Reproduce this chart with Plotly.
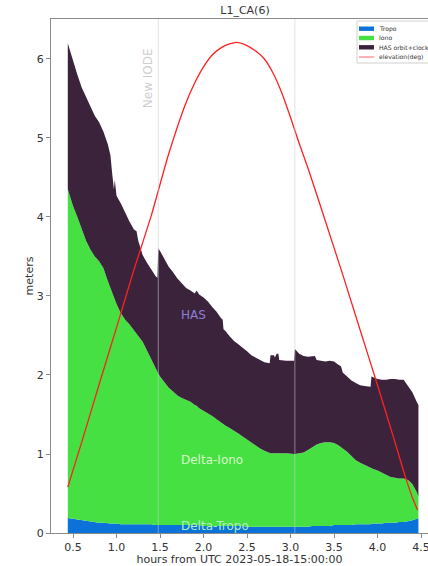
import plotly.graph_objects as go

# ---- data ----
hours = [0.44, 0.50, 0.55, 0.60, 0.65, 0.70, 0.75, 0.80, 0.85, 0.90, 0.93, 0.95, 0.97, 0.98, 0.99,
         1.00, 1.05, 1.10, 1.15, 1.20, 1.23, 1.25, 1.30, 1.35, 1.40, 1.45, 1.47, 1.48, 1.50, 1.55,
         1.60, 1.65, 1.70, 1.75, 1.80, 1.85, 1.90, 1.92, 1.95, 2.00, 2.05, 2.10, 2.15, 2.20, 2.22,
         2.23, 2.25, 2.30, 2.35, 2.40, 2.45, 2.50, 2.55, 2.60, 2.65, 2.70, 2.76, 2.77, 2.81, 2.82,
         2.84, 2.86, 2.87, 2.95, 3.04, 3.05, 3.10, 3.15, 3.20, 3.25, 3.28, 3.30, 3.35, 3.40, 3.45,
         3.50, 3.55, 3.58, 3.60, 3.65, 3.70, 3.75, 3.80, 3.85, 3.92, 3.93, 3.95, 4.00, 4.05, 4.10,
         4.15, 4.20, 4.25, 4.30, 4.35, 4.40, 4.45, 4.47]

tropo = [0.19, 0.18, 0.17, 0.16, 0.15, 0.15, 0.14, 0.13, 0.13, 0.12, 0.12, 0.12, 0.12, 0.12, 0.12,
         0.12, 0.11, 0.11, 0.11, 0.11, 0.11, 0.11, 0.11, 0.11, 0.11, 0.10, 0.10, 0.10, 0.10, 0.10,
         0.10, 0.10, 0.10, 0.10, 0.10, 0.10, 0.10, 0.10, 0.10, 0.09, 0.09, 0.09, 0.09, 0.09, 0.09,
         0.09, 0.09, 0.09, 0.09, 0.09, 0.09, 0.08, 0.08, 0.08, 0.08, 0.08, 0.08, 0.08, 0.08, 0.08,
         0.08, 0.08, 0.08, 0.08, 0.08, 0.08, 0.08, 0.08, 0.08, 0.09, 0.09, 0.09, 0.09, 0.09, 0.09,
         0.10, 0.10, 0.10, 0.10, 0.10, 0.10, 0.11, 0.11, 0.11, 0.11, 0.12, 0.12, 0.12, 0.12, 0.13,
         0.13, 0.13, 0.14, 0.14, 0.15, 0.16, 0.18, 0.19]

iono = [4.16, 3.96, 3.83, 3.68, 3.55, 3.44, 3.36, 3.31, 3.22, 3.07, 2.98, 2.92, 2.86, 2.83, 2.80,
        2.78, 2.67, 2.59, 2.53, 2.46, 2.42, 2.39, 2.31, 2.20, 2.08, 1.98, 1.94, 1.92, 1.88, 1.81,
        1.74, 1.69, 1.64, 1.61, 1.59, 1.56, 1.52, 1.51, 1.48, 1.46, 1.43, 1.39, 1.35, 1.31, 1.29,
        1.29, 1.27, 1.24, 1.21, 1.17, 1.13, 1.10, 1.06, 1.02, 0.99, 0.96, 0.93, 0.93, 0.93, 0.93,
        0.93, 0.93, 0.93, 0.93, 0.92, 0.92, 0.93, 0.94, 0.97, 1.00, 1.02, 1.03, 1.05, 1.06, 1.06,
        1.04, 1.01, 0.99, 0.97, 0.93, 0.87, 0.81, 0.78, 0.75, 0.71, 0.70, 0.69, 0.67, 0.64, 0.60,
        0.58, 0.57, 0.55, 0.55, 0.52, 0.46, 0.34, 0.27]

has = [1.85, 1.83, 1.80, 1.80, 1.82, 1.81, 1.78, 1.76, 1.73, 1.73, 1.68, 1.51, 1.37, 1.52, 1.38,
       1.37, 1.39, 1.35, 1.30, 1.27, 1.29, 1.20, 1.10, 1.11, 1.14, 1.17, 1.19, 1.58, 1.59, 1.55,
       1.53, 1.51, 1.48, 1.45, 1.41, 1.41, 1.41, 1.46, 1.44, 1.43, 1.41, 1.38, 1.36, 1.32, 1.32,
       1.20, 1.20, 1.16, 1.13, 1.13, 1.13, 1.12, 1.11, 1.12, 1.12, 1.12, 1.14, 1.24, 1.24, 1.21,
       1.26, 1.26, 1.18, 1.17, 1.18, 1.33, 1.26, 1.22, 1.18, 1.15, 1.13, 1.07, 1.04, 1.02, 1.03,
       1.03, 1.02, 1.02, 0.96, 0.95, 0.96, 0.98, 0.98, 1.00, 1.03, 1.16, 1.16, 1.16, 1.18, 1.21,
       1.24, 1.25, 1.25, 1.25, 1.19, 1.16, 1.14, 1.16]

elev_hours = [0.44, 0.6, 0.8, 1.0, 1.2, 1.4, 1.6, 1.8, 1.9, 2.0, 2.1, 2.2, 2.3, 2.38, 2.5, 2.6,
              2.7, 2.8, 2.9, 3.0, 3.1, 3.2, 3.4, 3.6, 3.8, 4.0, 4.2, 4.32, 4.4, 4.46]
elev_deg = [5.8, 11.5, 18.8, 26.0, 33.3, 40.2, 48.0, 54.5, 57.0, 59.0, 60.5, 61.4, 61.9, 62.1,
            61.7, 61.0, 60.0, 58.2, 55.7, 52.6, 49.3, 46.2, 39.5, 32.7, 25.7, 18.7, 11.5, 7.1, 4.5, 2.9]

iode_hours = [1.48, 3.05]

series_names = ["Tropo", "Iono", "HAS orbit+clock", "elevation(deg)"]
series_colors = ["#0a72d8", "#46e042", "#3c233c", "#ff2020"]

x_ticks = [0.5, 1.0, 1.5, 2.0, 2.5, 3.0, 3.5, 4.0, 4.5]
y_ticks = [0, 1, 2, 3, 4, 5, 6]

# ---- layout geometry (pixels) ----
W, H = 428, 566
ML, MR, MT, MB = 51, 0, 19, 33
PW, PH = W - ML - MR, H - MT - MB


def px_x(p):
    return (p - ML) / PW


def px_y(p):
    return 1 - (p - MT) / PH


# ---- figure ----
fig = go.Figure()
for name, vals, col in zip(series_names[:3], [tropo, iono, has], series_colors[:3]):
    fig.add_trace(go.Scatter(x=hours, y=vals, name=name, stackgroup="s", mode="lines",
                             line=dict(width=0, color=col), fillcolor=col))
fig.add_trace(go.Scatter(x=elev_hours, y=[e / 10 for e in elev_deg], name=series_names[3],
                         mode="lines",
                         line=dict(color=series_colors[3], width=1.3, shape="spline", smoothing=0.6)))

for h in iode_hours:
    fig.add_vline(x=h, line=dict(color="rgba(205,205,205,0.55)", width=1), layer="above")

fig.add_annotation(x=iode_hours[0], xshift=-10, y=5.76, text="New IODE", textangle=-90,
                   showarrow=False, font=dict(size=12, color="#cfcfcf", family="DejaVu Sans"))
fig.add_annotation(x=1.72, y=2.76, text="HAS", xanchor="left", showarrow=False,
                   font=dict(size=12, color="#8b7fd4", family="DejaVu Sans"))
fig.add_annotation(x=1.72, y=0.92, text="Delta-Iono", xanchor="left", showarrow=False,
                   font=dict(size=12, color="#d6f7c8", family="DejaVu Sans"))
fig.add_annotation(x=1.72, y=0.09, text="Delta-Tropo", xanchor="left", showarrow=False,
                   font=dict(size=12, color="#b4ecc4", family="DejaVu Sans"))

# ---- compact legend (matplotlib style, upper right, partly outside the window) ----
fig.add_shape(type="rect", xref="paper", yref="paper", x0=px_x(357), x1=px_x(470),
              y0=px_y(63), y1=px_y(21), line=dict(color="#d0d0d0", width=1),
              fillcolor="white", layer="above")
row_y = [28.7, 38, 47.3, 57]
for i, (name, col) in enumerate(zip(series_names, series_colors)):
    yc = row_y[i]
    if i < 3:
        fig.add_shape(type="rect", xref="paper", yref="paper", x0=px_x(359), x1=px_x(374),
                      y0=px_y(yc + 2.2), y1=px_y(yc - 2.2), line=dict(width=0),
                      fillcolor=col, layer="above")
    else:
        fig.add_shape(type="line", xref="paper", yref="paper", x0=px_x(359), x1=px_x(374),
                      y0=px_y(yc), y1=px_y(yc), line=dict(color="#ff8080", width=1.2),
                      layer="above")
    fig.add_annotation(xref="paper", yref="paper", x=px_x(377), y=px_y(yc), text=name,
                       xanchor="left", yanchor="middle", showarrow=False,
                       font=dict(size=6.1, color="#333333", family="DejaVu Sans"))

axis_common = dict(showgrid=False, zeroline=False, showline=True, linecolor="#8a8a8a", linewidth=1,
                   ticks="outside", ticklen=4, tickcolor="#8a8a8a", mirror=True,
                   ticklabeloverflow="allow",
                   tickfont=dict(size=11, color="#333333", family="DejaVu Sans"), automargin=False)

fig.update_layout(
    width=W, height=H,
    margin=dict(l=ML, r=MR, t=MT, b=MB, autoexpand=False),
    paper_bgcolor="white", plot_bgcolor="white",
    font=dict(family="DejaVu Sans", color="#333333"),
    title=dict(text="L1_CA(6)", x=245 / W, xanchor="center", xref="container",
               y=1 - 10 / H, yanchor="middle", yref="container",
               font=dict(size=11, color="#333333")),
    xaxis=dict(range=[0.247, 4.58], tickvals=x_ticks, ticktext=[f"{t:.1f}" for t in x_ticks],
               title=dict(text="hours from UTC 2023-05-18-15:00:00", font=dict(size=11), standoff=2),
               **axis_common),
    yaxis=dict(range=[0, 6.506], tickvals=y_ticks,
               title=dict(text="meters", font=dict(size=11), standoff=0), **axis_common),
    showlegend=False,
)

fig.write_html("out.html", config={"displayModeBar": False},
               post_script="document.body.style.margin='0';document.body.style.overflow='hidden';")
